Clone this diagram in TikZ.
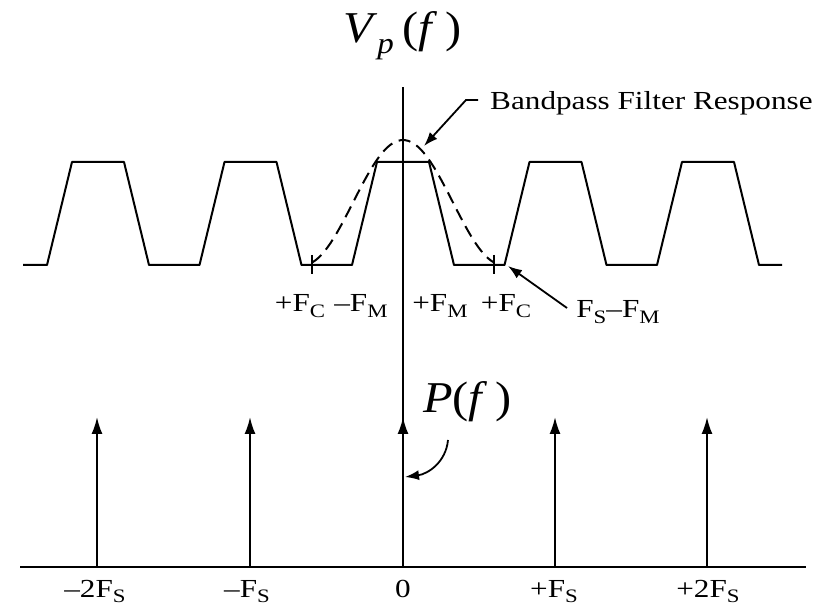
\documentclass[tikz,border=0pt]{standalone}
\usepackage{fontspec}
\setmainfont{Liberation Serif}
\usetikzlibrary{arrows.meta}
\newcommand{\lsub}[1]{\raisebox{-0.45ex}{\fontsize{19pt}{19pt}\selectfont #1}}
\newcommand{\bigsub}[1]{\raisebox{-0.5ex}{\fontsize{30pt}{30pt}\selectfont #1}}

\begin{document}
\begin{tikzpicture}[x=1pt, y=-1pt,
    wave/.style={line width=2pt, line join=round},
    axisline/.style={line width=2.6pt},
    imp/.style={line width=2pt, -{Latex[length=17pt,width=11pt]}},
    pointer/.style={line width=1.8pt, -{Latex[length=14pt,width=10pt]}},
    lbl/.style={font=\fontsize{26pt}{26pt}\selectfont, xscale=1.2,
                anchor=base, inner sep=0pt},
    big/.style={font=\fontsize{44pt}{44pt}\selectfont, xscale=1.1,
                anchor=base west, inner sep=0pt}
  ]
  \useasboundingbox (0,0) rectangle (825,609);

  % frequency axis and centre line
  \coordinate (axL) at (20,567);
  \coordinate (axR) at (806,567);
  \coordinate (ctop) at (403,87);
  \draw[axisline] (axL) -- (axR);
  \draw[wave] (403,567) -- (ctop);

  % sampled spectrum
  \draw[wave] (23,265)
    foreach \c in {98,250.5,403,555.5,708} {
      -- (\c-51,265) -- (\c-26,162) -- (\c+26,162) -- (\c+51,265) }
    -- (782,265);

  % bandpass filter response
  \draw[wave, dash pattern=on 12pt off 7pt]
    plot[domain=-91:91, samples=50, smooth]
    ({403+\x}, {265-125*(1+cos(\x*1.8))/2});

  \foreach \x/\n in {312/tkL, 494/tkR} {
    \coordinate (\n a) at (\x,255);
    \coordinate (\n b) at (\x,274);
    \draw[wave] (\n a) -- (\n b);
  }

  \node[lbl] (fcl) at (300,312) {+F\lsub{C}};
  \node[lbl] (fml) at (361,312) {–F\lsub{M}};
  \node[lbl] (fmr) at (440,312) {+F\lsub{M}};
  \node[lbl] (fcr) at (506,312) {+F\lsub{C}};
  \node[lbl] (fsm) at (618,318) {F\lsub{S}–F\lsub{M}};

  \coordinate (fsmfoot) at (567,308);
  \coordinate (fsmtip) at (508,266);
  \draw[pointer] (fsmfoot) -- (fsmtip);

  \node[lbl, anchor=base west] (bpf) at (490,110) {Bandpass Filter Response};
  \coordinate (bpfoot) at (478,100);
  \coordinate (bptip) at (424,146);
  \draw[pointer] (bpfoot) -- ++(-12,0) -- (bptip);

  \node[big] (vp) at (343,43) {\textit{V}\bigsub{\textit{p}}\,(\textit{f}\,)};

  % impulse train
  \foreach \x [count=\i] in {97,250,403,555,707} {
    \coordinate (ib\i) at (\x,567);
    \coordinate (it\i) at (\x,417);
    \draw[imp] (ib\i) -- (it\i);
  }

  \node[big] (pf) at (423,413) {\textit{P}(\textit{f}\,)};
  \coordinate (pfoot) at (448,440);
  \coordinate (ptip) at (405,477);
  \draw[pointer] (pfoot) .. controls (446,462) and (428,474) .. (ptip);

  \node[lbl] (l1) at (95,597) {–2F\lsub{S}};
  \node[lbl] (l2) at (247,597) {–F\lsub{S}};
  \node[lbl] (l3) at (403,597) {0};
  \node[lbl] (l4) at (554,597) {+F\lsub{S}};
  \node[lbl] (l5) at (708,597) {+2F\lsub{S}};
\end{tikzpicture}
\end{document}
